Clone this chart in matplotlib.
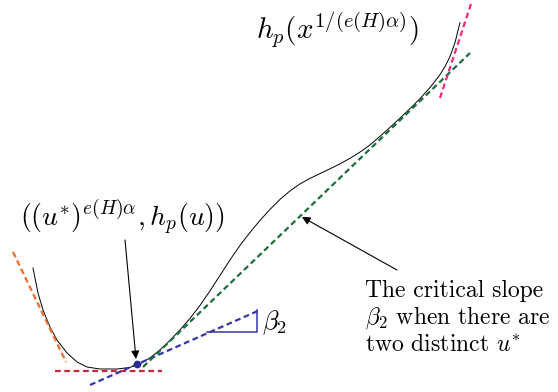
import matplotlib
matplotlib.use("Agg")
import matplotlib.pyplot as plt

plt.rcParams['mathtext.fontset'] = 'cm'

# curve (pixel coords, y down)
curve_x = [33, 38, 43, 50, 57, 67, 77, 87, 100, 117, 130, 140, 150, 160, 170, 180, 190, 200,
           210, 220, 230, 240, 250, 260, 270, 280, 290, 300, 310, 320, 330, 340, 350, 360,
           370, 380, 390, 400, 410, 420, 430, 440, 445, 450, 455, 458, 460]
curve_y = [268, 293, 310, 327, 340, 353, 362, 367, 369, 369, 367.4, 363.9, 357.9, 349.9, 340.4,
           329.9, 318.4, 305.4, 290.9, 275.4, 259.9, 245.4, 232.4, 220.4, 209.4, 199.4, 190.9,
           183.9, 178.4, 173.6, 168.8, 163.8, 158.3, 152.1, 144.9, 136.4, 127.4, 118.1, 108.6,
           98.6, 87.6, 74.6, 66.6, 56.6, 42.6, 30.6, 22.6]

# tangent lines (end points)
orange_x = [13, 66]
orange_y = [252, 362]
red_x = [55, 162]
red_y = [371, 371]
blue_x = [90, 260]
blue_y = [385, 310]
green_x = [143, 470]
green_y = [367, 53]
pink_x = [440, 471]
pink_y = [98, 4]

# slope triangle
tri_x = [207, 257, 257]
tri_y = [332, 332, 310]

point_x, point_y = 137, 364

fig = plt.figure(figsize=(5.58, 3.92), dpi=100)
ax = fig.add_axes([0, 0, 1, 1])
ax.set_xlim(0, 558)
ax.set_ylim(392, 0)
ax.axis('off')

ax.plot(curve_x, curve_y, color='black', lw=0.7, solid_joinstyle='round')

dash = dict(lw=1.6, dashes=(2.6, 1.6))
ax.plot(orange_x, orange_y, color='#f26b2a', **dash)
ax.plot(red_x, red_y, color='#c8283c', **dash)
ax.plot(blue_x, blue_y, color='#3535a5', **dash)
ax.plot(green_x, green_y, color='#1a6e3c', **dash)
ax.plot(pink_x, pink_y, color='#ee2a7b', **dash)

ax.plot(tri_x, tri_y, color='#3535a5', lw=1.1)
ax.plot(point_x, point_y, 'o', color='#2a2a9a', ms=4.5)

arrow = dict(arrowstyle='-|>', color='black', lw=0.8, mutation_scale=12, shrinkA=0, shrinkB=0)
ax.annotate('', xy=(136, 359), xytext=(125, 240), arrowprops=arrow)
ax.annotate('', xy=(302, 217), xytext=(397, 270), arrowprops=arrow)

ax.text(337, 30, r'$h_p(x^{1/(e(H)\alpha)})$', fontsize=21, ha='center', va='center')
ax.text(122, 217, r'$((u^{*})^{e(H)\alpha}, h_p(u))$', fontsize=20, ha='center', va='center')
ax.text(262, 323, r'$\beta_2$', fontsize=19, ha='left', va='center')

body = dict(fontsize=17, fontname='cmr10', ha='left', va='center')
ax.text(365, 291, 'The critical slope', **body)
ax.text(365, 318, r'$\beta_2$ when there are', **body)
ax.text(365, 345, r'two distinct $u^{*}$', **body)

fig.savefig('out.png', dpi=100)
